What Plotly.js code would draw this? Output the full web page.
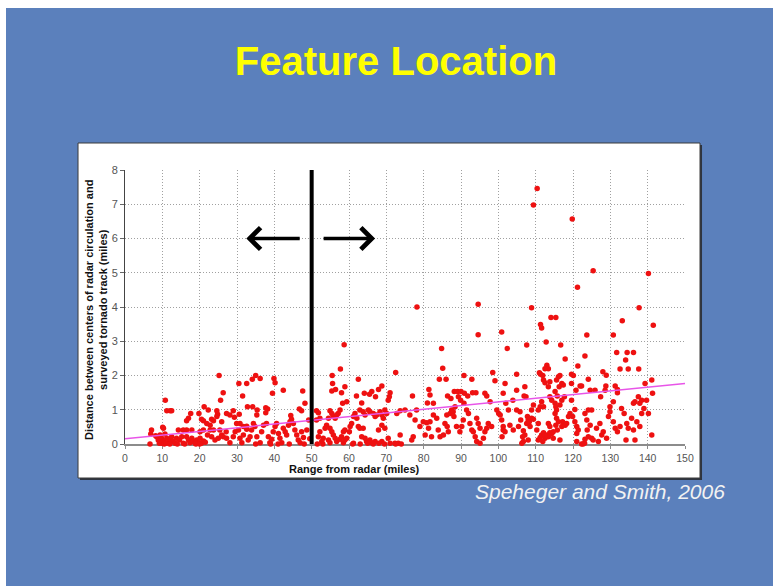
<!DOCTYPE html>
<html>
<head>
<meta charset="utf-8">
<script src="https://cdn.plot.ly/plotly-3.0.1.min.js"></script>
<style>html,body{margin:0;padding:0;background:#fff;}#chart{width:773px;height:586px;}</style>
</head>
<body>
<div id="chart"></div>
<script>
// [range from radar (miles), distance between centers (miles)]
const obsUnder50 = [
[25.2,2.0],[30.5,1.77],[32.6,1.77],[34.1,1.89],[35.0,2.0],[36.2,1.91],[39.9,1.91],[40.2,1.79],[39.5,1.48],[42.4,1.57],
[26.3,1.5],[25.6,1.28],[31.5,1.4],[10.8,1.28],[11.2,0.97],[12.1,0.97],[12.5,0.97],[47.6,1.55],[48.2,1.19],[47.3,0.97],
[32.8,1.09],[34.2,1.09],[35.4,0.99],[35.3,0.85],[37.7,1.06],[37.7,0.91],[24.6,0.97],[24.8,0.87],[24.6,0.8],[25.9,0.65],
[27.2,0.89],[28.1,0.85],[29.0,0.97],[29.3,0.78],[30.6,0.87],[21.2,1.09],[22.3,0.99],[19.8,0.89],[20.5,0.72],[21.0,0.68],
[23.2,0.72],[23.7,0.68],[22.8,0.55],[21.9,0.6],[17.6,0.89],[17.0,0.75],[16.5,0.68],[21.0,0.41],[20.1,0.36],[17.9,0.41],
[16.5,0.41],[14.3,0.41],[15.6,0.41],[10.3,0.46],[10.7,0.29],[7.1,0.41],[6.9,0.29],[6.7,0.0],[10.1,0.49],[8.2,0.24],
[8.9,0.19],[38.2,1.02],[46.7,1.02],[44.4,0.83],
[8.5,0.21],[8.9,0.12],[9.4,0.26],[9.8,0.17],[10.3,0.07],[11.2,0.17],[11.6,0.04],[12.1,0.12],[12.5,0.21],[12.9,0.07],
[13.4,0.02],[9.8,0.02],[9.2,0.02],[13.8,0.17],[14.6,0.12],[15.2,0.21],[15.6,0.02],[16.5,0.21],[17.0,0.12],[17.4,0.04],
[17.9,0.17],[18.3,0.07],[18.8,0.02],[19.2,0.12],[19.6,0.04],[20.1,0.17],[20.5,0.02],[21.0,0.09],[22.1,0.26],[22.8,0.41],
[23.2,0.21],[23.7,0.41],[24.1,0.12],[25.0,0.17],[25.4,0.41],[25.9,0.26],[26.3,0.21],[27.1,0.36],[27.2,0.17],[28.1,0.04],
[29.0,0.21],[29.5,0.36],[29.9,0.6],[30.4,0.41],[30.8,0.17],[31.3,0.04],[31.7,0.26],[32.6,0.43],[33.0,0.12],[33.5,0.21],
[33.9,0.41],[30.8,0.6],[31.7,0.51],[32.6,0.52],[34.4,0.6],[34.8,0.51],[35.3,0.21],[36.2,0.04],[36.6,0.36],[37.1,0.55],
[37.9,0.6],[38.4,0.21],[38.8,0.04],[39.3,0.14],[39.7,0.36],[40.2,0.51],[40.6,0.6],[41.1,0.31],[41.5,0.17],[42.0,0.04],
[42.4,0.46],[42.9,0.36],[43.3,0.26],[43.8,0.55],[44.2,0.65],[44.6,0.72],[45.1,0.6],[45.5,0.41],[46.0,0.26],[46.4,0.12],
[46.9,0.04],[47.3,0.36],[47.8,0.19],[48.7,0.41],
[10.5,0.0],[11.0,0.02],[12.0,0.0],[14.0,0.0],[16.0,0.0],[19.0,0.0],[20.0,0.0],[21.5,0.05],[35.0,0.0],[39.0,0.0],
[41.0,0.0],[44.0,0.0],[48.0,0.0],[49.2,0.7],[49.5,0.15]
];
const obs50to100 = [
[57.7,2.19],[55.5,2.0],[55.6,1.77],[62.5,1.89],[72.5,2.09],[85.1,2.21],[84.2,1.89],[86.0,1.89],[90.8,2.0],[92.9,1.89],
[98.5,2.09],[99.1,1.85],[78.2,4.0],[94.6,4.08],[94.6,3.19],[58.7,2.9],[84.8,2.79],
[56.4,1.59],[58.0,1.5],[55.4,1.55],[58.9,1.67],[62.0,1.4],[64.1,1.48],[63.4,1.2],[68.8,1.69],[67.9,1.59],
[71.0,1.5],[70.8,1.38],[70.5,1.28],[66.1,1.53],[65.5,1.45],[67.1,1.38],[77.0,1.4],[81.4,1.59],[81.7,1.43],[81.0,1.2],
[82.6,1.19],[86.4,1.4],[87.3,1.33],[88.2,1.53],[89.1,1.53],[90.0,1.53],[90.9,1.48],[91.8,1.4],[93.1,1.5],[94.0,1.5],
[89.3,1.38],[89.9,1.28],[90.8,1.19],[96.4,1.48],[96.9,1.4],[97.8,1.23],[58.3,1.19],[59.4,1.23],[57.6,0.99],
[57.1,0.89],[51.3,0.97],[51.8,0.91],[52.2,0.75],[51.3,0.7],
[54.9,0.97],[55.4,0.89],[55.8,0.8],[56.3,0.75],[56.7,0.85],[54.5,0.75],[54.0,0.55],[54.9,0.46],[55.4,0.36],[55.8,0.26],
[56.3,0.17],[54.5,0.12],[53.1,0.17],[53.6,0.46],[52.2,0.36],[51.8,0.21],[52.7,0.07],[54.9,0.04],[56.7,0.07],[57.6,0.14],
[58.0,0.21],[58.5,0.36],[58.9,0.41],[59.4,0.17],[60.3,0.51],[60.7,0.6],[61.2,0.8],[61.6,0.89],[62.1,0.75],[62.9,0.99],
[63.8,0.94],[64.3,0.85],[65.2,0.99],[65.6,0.94],[66.5,0.89],[67.0,0.8],[67.4,0.85],[68.3,0.94],[68.8,0.85],[69.2,0.75],
[69.6,0.99],[70.1,0.89],[68.8,0.55],[67.9,0.41],[67.0,0.07],[66.1,0.04],[65.6,0.12],[64.7,0.07],[64.3,0.17],[63.4,0.21],
[62.9,0.46],[62.5,0.51],[63.8,0.46],[61.2,0.02],[60.1,0.36],[58.5,0.04],[58.9,0.12],[69.6,0.46],[70.5,0.17],[68.8,0.07],
[71.0,0.02],[72.3,0.02],[73.2,0.02],[73.7,0.26],[72.8,0.89],[73.7,0.97],[75.0,0.99],[76.3,0.85],[77.7,0.7],[78.1,0.99],
[79.0,0.51],[77.2,0.21],[76.8,0.12],[79.9,0.65],[80.8,0.62],[81.7,0.65],[80.4,0.26],[81.3,0.46],[82.6,0.85],[83.5,0.75],
[82.1,0.21],[83.9,0.41],[84.4,0.21],[85.3,0.26],[85.7,0.6],[86.2,0.85],[87.1,0.89],[87.5,0.99],[87.9,0.94],[88.1,0.8],
[88.4,1.09],[86.3,0.51],[86.6,0.36],[88.8,0.51],[89.7,0.36],[90.2,0.51],[90.6,0.7],[91.5,0.99],[92.0,0.89],[92.4,0.6],
[92.9,0.41],[93.3,0.36],[94.2,0.75],[94.6,0.6],[95.1,0.46],[93.8,0.21],[94.2,0.07],[95.1,0.02],[96.0,0.17],[96.4,0.36],
[96.9,0.46],[97.3,0.6],[98.2,0.51],[99.6,0.99],
[61.0,0.0],[63.0,0.0],[65.0,0.02],[66.5,0.0],[68.0,0.02],[69.5,0.0],[72.5,0.0],[74.0,0.0],[51.5,0.0],[53.0,0.0]
];
const obsOver100 = [
[110.4,7.46],[109.4,6.98],[119.8,6.57],[125.4,5.06],[121.2,4.58],[140.2,4.98],
[108.9,3.98],[137.7,3.98],[114.1,3.69],[115.4,3.69],[111.3,3.49],[111.6,3.39],[100.9,3.27],[133.2,3.6],[141.5,3.47],
[123.7,3.18],[130.8,3.18],[102.4,2.79],[107.6,2.89],[116.7,2.89],[112.8,2.98],[131.7,2.67],[134.5,2.67],[136.2,2.67],
[123.2,2.57],[117.9,2.48],[134.1,2.45],[121.3,2.28],[113.0,2.3],[113.4,2.2],[112.5,2.2],[111.0,2.08],[111.3,2.04],
[111.9,2.0],[132.6,2.19],[134.8,2.19],[137.6,2.19],[128.0,2.11],[128.9,2.01],[104.9,2.04],[119.6,2.04],
[101.3,1.48],[100.1,0.89],[100.5,0.85],[101.3,0.51],[101.8,0.36],[101.0,0.21],
[101.8,1.77],[104.9,1.57],[107.1,1.67],[107.4,1.38],[106.9,1.4],[103.9,1.28],[102.0,1.19],[112.1,1.87],[112.5,1.79],
[113.4,1.67],[113.8,1.82],[115.6,1.87],[116.1,1.96],[116.5,2.0],[117.0,1.77],[117.4,1.72],[116.3,1.67],[115.2,1.53],
[115.8,1.4],[119.6,1.77],[120.1,2.0],[121.9,1.69],[122.3,1.69],[124.1,1.89],[124.6,1.57],[125.9,1.57],[127.4,1.38],
[128.8,1.69],[128.6,1.57],[131.3,1.69],[131.9,1.59],[131.9,1.5],[139.3,1.77],[141.1,1.87],[141.3,1.48],[120.8,1.57],
[117.7,1.38],[117.0,1.28],[116.5,1.14],[111.6,1.23],[111.2,1.09],[110.7,0.99],[112.1,1.09],[113.8,1.38],[114.3,1.28],
[109.4,1.14],[108.9,0.99],[104.9,0.99],[105.8,0.94],
[115.2,1.19],[115.4,1.09],[115.6,0.99],[115.2,0.89],[115.6,0.75],[116.1,0.65],[115.4,0.55],[115.8,0.41],[117.2,0.65],
[117.6,0.6],[118.3,0.6],[119.6,1.28],[120.5,1.01],[119.9,0.8],[120.5,0.65],[121.0,0.51],[121.4,0.41],[121.0,0.31],
[121.0,0.07],[122.7,0.0],[122.3,0.0],[123.1,0.02],[123.2,0.89],[123.7,0.7],[124.1,0.99],[125.0,0.99],[124.6,0.55],
[123.8,0.41],[124.1,0.21],[123.2,0.14],[125.0,0.17],[125.4,0.12],[126.3,0.46],[127.2,0.6],[126.8,0.07],[127.7,0.26],
[128.1,0.36],[129.0,0.17],[129.5,0.8],[129.9,1.09],[129.9,0.94],[130.8,1.23],[130.8,0.65],[131.3,0.46],[131.9,0.36],
[132.6,0.51],[133.0,1.04],[133.7,0.89],[134.4,0.6],[134.8,0.46],[134.2,0.12],[135.7,0.75],[136.2,1.19],[136.6,1.23],
[137.5,1.38],[137.9,1.19],[138.4,1.28],[139.0,1.04],[138.4,0.89],[136.2,0.41],[136.6,0.12],[137.1,0.65],[140.2,0.89],
[139.7,1.28],[141.1,0.26],[137.9,0.51],
[100.9,0.7],[101.3,0.41],[102.7,0.99],[103.1,0.55],[104.0,0.41],[105.4,0.51],[106.0,0.7],[106.7,0.39],[106.5,0.21],
[107.6,0.6],[107.8,0.8],[108.0,0.7],[108.3,0.65],[108.5,0.51],[108.9,0.75],[109.4,0.72],[108.0,0.12],[107.1,0.26],
[106.7,0.07],[106.3,0.02],[110.3,0.41],[110.7,0.6],[110.7,0.12],[111.2,0.19],[111.6,0.26],[112.1,0.33],[112.5,0.17],
[113.0,0.26],[113.4,0.21],[113.8,0.33],[114.3,0.31],[114.7,0.36],[111.9,0.07],[112.5,0.23],[113.4,0.6],[113.8,0.51],
[114.7,0.17],[116.5,0.12],[117.0,0.51],[117.9,0.55],[119.2,0.89],[118.8,0.8]
];
const trendRange = [0, 150];
const trendDistance = [0.15, 1.77];
const splitRange = 50;
const arrowLevel = 6;
const leftArrow = [47.2, 32.5];   // tail, tip
const rightArrow = [52.8, 67.0];  // tail, tip
const xTicks = [0,10,20,30,40,50,60,70,80,90,100,110,120,130,140,150];
const yTicks = [0,1,2,3,4,5,6,7,8];

const allObs = obsUnder50.concat(obs50to100, obsOver100);
const FONT = "'Liberation Sans', Arial, sans-serif";

const traces = [
  {
    type: 'scatter', mode: 'markers',
    x: allObs.map(p => p[0]), y: allObs.map(p => p[1]),
    marker: {color: '#ee1111', size: 5.5, line: {width: 0}},
    cliponaxis: false, hoverinfo: 'x+y', showlegend: false
  },
  {
    type: 'scatter', mode: 'lines',
    x: trendRange, y: trendDistance,
    line: {color: '#e855e8', width: 1.5},
    hoverinfo: 'skip', showlegend: false
  }
];

const layout = {
  width: 773, height: 586,
  margin: {l: 125, r: 88, t: 170, b: 142, pad: 0},
  paper_bgcolor: '#ffffff', plot_bgcolor: '#ffffff',
  font: {family: FONT},
  title: {
    text: '<b>Feature Location</b>',
    font: {family: FONT, size: 40, color: '#ffff00'},
    x: 396/773, xanchor: 'center', xref: 'container',
    y: 1 - 61/586, yanchor: 'middle', yref: 'container'
  },
  xaxis: {
    range: [0, 150], tickvals: xTicks, ticktext: xTicks.map(String),
    showgrid: true, gridcolor: '#a0a0a0', griddash: '1px,2px', gridwidth: 1,
    showline: true, linecolor: '#8c8c8c', linewidth: 2,
    ticks: 'outside', ticklen: 3, tickcolor: '#8c8c8c', tickwidth: 1,
    tickfont: {family: FONT, size: 10.5, color: '#555555'},
    zeroline: false, layer: 'below traces', fixedrange: true
  },
  yaxis: {
    range: [0, 8], tickvals: yTicks, ticktext: yTicks.map(String),
    showgrid: true, gridcolor: '#a0a0a0', griddash: '1px,2px', gridwidth: 1,
    showline: true, linecolor: '#444444', linewidth: 1,
    ticks: 'outside', ticklen: 4, tickcolor: '#666666', tickwidth: 1,
    tickfont: {family: FONT, size: 11, color: '#555555'},
    zeroline: false, layer: 'below traces', fixedrange: true
  },
  shapes: [
    {type: 'rect', xref: 'paper', yref: 'paper', x0: -0.2125, x1: 1.16, y0: -0.53, y1: 1.591,
     fillcolor: '#5b80bc', line: {width: 0}, layer: 'below'},
    {type: 'rect', xref: 'paper', yref: 'paper', x0: -0.0804, x1: 1.0304, y0: -0.1314, y1: 1.0912,
     fillcolor: '#2e3440', line: {width: 0}, layer: 'below'},
    {type: 'rect', xref: 'paper', yref: 'paper', x0: -0.0839, x1: 1.0268, y0: -0.1241, y1: 1.0985,
     fillcolor: '#ffffff', line: {color: '#3a3a3a', width: 1}, layer: 'below'},
    {type: 'line', xref: 'x', yref: 'y', x0: splitRange, x1: splitRange, y0: 0, y1: 8,
     line: {color: '#000000', width: 4}, layer: 'above'}
  ],
  annotations: [
    {x: leftArrow[1], y: arrowLevel, ax: leftArrow[0], ay: arrowLevel, xref: 'x', yref: 'y', axref: 'x', ayref: 'y',
     text: '', showarrow: true, arrowhead: 4, arrowsize: 1.2, arrowwidth: 3.5, arrowcolor: '#000000', standoff: 0, startstandoff: 0},
    {x: rightArrow[1], y: arrowLevel, ax: rightArrow[0], ay: arrowLevel, xref: 'x', yref: 'y', axref: 'x', ayref: 'y',
     text: '', showarrow: true, arrowhead: 4, arrowsize: 1.2, arrowwidth: 3.5, arrowcolor: '#000000', standoff: 0, startstandoff: 0},
    {xref: 'paper', yref: 'paper', x: (96-125)/560, y: 0.5 - 3/274, textangle: -90, showarrow: false,
     xanchor: 'center', yanchor: 'middle',
     text: '<b>Distance between centers of radar circulation and<br>surveyed tornado track (miles)</b>',
     font: {family: FONT, size: 11, color: '#111111'}},
    {xref: 'paper', yref: 'paper', x: (354-125)/560, y: (444-469)/274, showarrow: false,
     xanchor: 'center', yanchor: 'middle',
     text: '<b>Range from radar (miles)</b>',
     font: {family: FONT, size: 11, color: '#111111'}},
    {xref: 'paper', yref: 'paper', x: (727-125)/560, y: (444-491)/274, showarrow: false,
     xanchor: 'right', yanchor: 'middle',
     text: 'Speheger and Smith, 2006',
     font: {family: FONT, size: 21, color: '#f2f2f2', style: 'italic'}}
  ]
};

Plotly.newPlot('chart', traces, layout, {displayModeBar: false, staticPlot: true});
</script>
</body>
</html>
